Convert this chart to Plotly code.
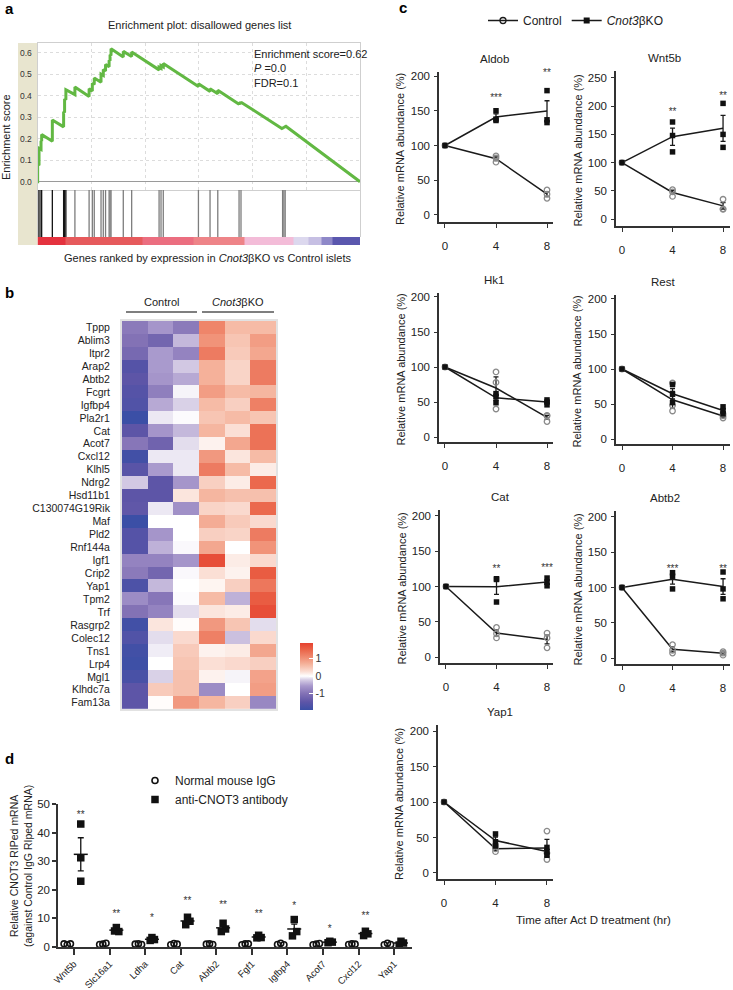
import plotly.graph_objects as go

W, H = 733, 990
FONT = "Liberation Sans, Arial, Helvetica, sans-serif"
INK = "#222222"


def fx(p):
    return p / W


def fy(p):
    return 1 - p / H


# ---------------- Panel a : GSEA enrichment plot ----------------
hit_rank = [0.05, 0.47, 1.09, 1.29, 4.6, 8.1, 8.4, 8.8, 11.6, 16.0, 17.0, 17.6, 19.7, 20.4,
            21.1, 22.2, 22.5, 22.8, 26.6, 29.2, 37.7, 38.3, 39.0, 49.9, 53.5, 55.9, 62.5,
            63.1, 76.0, 76.4, 76.8]
es_before = [0.000, 0.076, 0.150, 0.188, 0.188, 0.255, 0.322, 0.381, 0.405, 0.396, 0.422,
             0.452, 0.462, 0.494, 0.515, 0.535, 0.562, 0.587, 0.580, 0.582, 0.520, 0.527,
             0.534, 0.443, 0.420, 0.409, 0.360, 0.362, 0.245, 0.249, 0.252]
es_after = [0.080, 0.155, 0.190, 0.220, 0.287, 0.325, 0.385, 0.428, 0.440, 0.432, 0.458,
            0.482, 0.500, 0.522, 0.545, 0.565, 0.590, 0.618, 0.606, 0.603, 0.532, 0.540,
            0.550, 0.455, 0.432, 0.425, 0.368, 0.370, 0.253, 0.256, 0.260]
es_end_rank = 100.0
es_end_value = 0.0
es_ticks = [0.0, 0.1, 0.2, 0.3, 0.4, 0.5, 0.6]
strip_edges = [0, 8.7, 32.5, 48.3, 64.1, 79.3, 83.9, 88.2, 91.6, 100]
strip_level = [0, 1, 2, 3, 4, 5, 6, 7, 8]
strip_colors = ["#e4323e", "#e65a5c", "#eb6e80", "#ee8488", "#f3bcd8",
                "#dcd8ee", "#c6bfe3", "#8e88c8", "#5a57ae"]

# ---------------- Panel b : heatmap ----------------
genes_b = ["Tppp", "Ablim3", "Itpr2", "Arap2", "Abtb2", "Fcgrt", "Igfbp4", "Pla2r1", "Cat",
           "Acot7", "Cxcl12", "Klhl5", "Ndrg2", "Hsd11b1", "C130074G19Rik", "Maf", "Pld2",
           "Rnf144a", "Igf1", "Crip2", "Yap1", "Tpm2", "Trf", "Rasgrp2", "Colec12", "Tns1",
           "Lrp4", "Mgl1", "Klhdc7a", "Fam13a"]
expr = [
    [-0.90, -0.60, -0.90, 1.15, 0.60, 0.60],
    [-1.00, -1.20, -0.35, 1.00, 0.50, 0.90],
    [-1.15, -0.55, -0.80, 1.25, 0.45, 0.80],
    [-1.60, -0.55, -0.25, 0.70, 0.35, 1.25],
    [-1.50, -0.60, -0.45, 0.70, 0.35, 1.25],
    [-1.60, -0.85, -0.05, 0.90, 0.60, 0.65],
    [-1.65, -0.45, -0.20, 0.60, 0.40, 1.20],
    [-1.95, -0.10, -0.02, 0.50, 0.60, 0.50],
    [-1.50, -0.60, -0.35, 0.65, 0.25, 1.35],
    [-0.95, -1.25, -0.15, 0.10, 0.80, 1.35],
    [-1.85, -0.10, -0.10, 0.95, 0.20, 0.60],
    [-1.55, -0.55, -0.10, 1.25, 0.60, 0.15],
    [-0.25, -1.50, -0.60, 0.40, 0.15, 1.45],
    [-1.50, -1.50, 0.20, 0.65, 0.55, 0.55],
    [-1.45, -0.10, -0.65, 0.35, 0.30, 1.45],
    [-1.95, 0.00, 0.00, 0.75, 0.45, 0.30],
    [-1.60, -0.60, 0.00, 0.40, 0.35, 1.25],
    [-1.60, -0.40, -0.03, 0.80, 0.00, 1.00],
    [-0.80, -0.80, -0.60, 1.75, 0.15, 0.30],
    [-0.90, -1.20, -0.03, 0.25, 0.10, 1.60],
    [-1.70, -0.35, 0.00, 0.08, 0.40, 1.30],
    [-0.70, -0.95, -0.02, 0.60, -0.40, 1.60],
    [-1.00, -0.80, -0.15, 0.20, 0.15, 1.75],
    [-1.85, 0.20, 0.02, 0.95, 0.50, -0.15],
    [-1.65, -0.15, 0.30, 1.20, -0.30, 0.30],
    [-1.85, -0.08, 0.45, 0.10, 0.15, 0.80],
    [-1.90, 0.00, 0.50, 0.25, 0.30, 0.40],
    [-1.75, -0.20, 0.55, 0.10, -0.05, 0.85],
    [-1.50, 0.45, 0.55, -0.70, 0.00, 0.90],
    [-1.50, 0.02, 0.95, 0.65, 0.40, -0.75],
]
cbar_ticks = [-1, 0, 1]
cbar_ticktext = ["-1", "0", "1"]

# ---------------- Panel c : mRNA decay ----------------
c_genes = ["Aldob", "Wnt5b", "Hk1", "Rest", "Cat", "Abtb2", "Yap1"]
time_h = [0, 4, 8]
start_pct = 100
ctrl_4h = [[85, 82, 76], [52, 48, 40], [93, 78, 40], [80, 48, 40], [42, 33, 27], [19, 11, 7], [38, 34, 30]]
ctrl_8h = [[36, 30, 24], [35, 18, 17], [31, 30, 22], [36, 33, 30], [34, 27, 13], [9, 7, 4], [59, 28, 19]]
ko_4h = [[150, 138, 136], [172, 148, 119], [62, 58, 49], [78, 64, 52], [111, 110, 78], [121, 116, 98], [55, 44, 38]]
ko_8h = [[179, 137, 133], [205, 150, 127], [53, 50, 46], [46, 40, 36], [112, 106, 101], [122, 98, 84], [36, 30, 25]]
ctrl_mean = [[100, 81, 30], [100, 47, 23.3], [100, 70, 28], [100, 56, 33], [100, 34, 24.7], [100, 12.3, 6.7], [100, 34, 35.3]]
ctrl_sem = [[0, 2.6, 3.5], [0, 3.5, 5.8], [0, 15.8, 2.8], [0, 12.2, 1.7], [0, 4.4, 6.2], [0, 3.5, 1.5], [0, 2.3, 12.1]]
ko_mean = [[100, 141, 149.7], [100, 146, 160.7], [100, 56, 50], [100, 64.7, 40.7], [100, 99.7, 106.3], [100, 111.7, 101.3], [100, 45.7, 30.3]]
ko_sem = [[0, 4.4, 14.7], [0, 15.3, 23.0], [0, 3.8, 2.0], [0, 7.5, 2.9], [0, 10.8, 3.2], [0, 7.0, 11.1], [0, 5.0, 3.2]]
star_4h = ["***", "**", "", "", "**", "***", ""]
star_8h = ["**", "**", "", "", "***", "**", ""]
star_y_4h = [167, 188, None, None, 124, 126, None]
star_y_8h = [203, 218, None, None, 126, 126, None]
c_yticks = [[0, 50, 100, 150, 200], [0, 50, 100, 150, 200, 250], [0, 50, 100, 150, 200],
            [0, 50, 100, 150, 200], [0, 50, 100, 150, 200], [0, 50, 100, 150, 200],
            [0, 50, 100, 150, 200]]

# ---------------- Panel d : RIP ----------------
cats_d = ["Wnt5b", "Slc16a1", "Ldha", "Cat", "Abtb2", "Fgf1", "Igfbp4", "Acot7", "Cxcl12", "Yap1"]
igg = [[1.1, 0.8, 1.1], [0.9, 1.0, 1.3], [1.0, 1.1, 0.9], [0.8, 1.2, 1.0], [1.0, 1.1, 0.9],
       [0.8, 1.1, 1.1], [0.9, 1.3, 0.8], [0.8, 1.0, 1.2], [0.9, 1.1, 1.0], [0.8, 1.3, 0.9]]
anti = [[43.0, 31.2, 23.0], [6.8, 5.4, 5.6], [3.3, 2.6, 2.3], [10.4, 9.0, 7.8], [8.3, 6.3, 5.4],
        [4.1, 3.3, 3.2], [9.6, 5.4, 3.9], [2.0, 1.7, 1.5], [5.5, 4.6, 4.0], [2.0, 1.4, 0.7]]
anti_mean = [32.4, 5.9, 2.7, 9.1, 6.7, 3.5, 6.3, 1.7, 4.7, 1.4]
anti_sem = [5.8, 0.4, 0.3, 0.8, 0.9, 0.3, 1.7, 0.15, 0.4, 0.4]
stars_d = ["**", "**", "*", "**", "**", "**", "*", "*", "**", ""]
star_y_d = [46.0, 11.5, 10.0, 16.0, 14.5, 11.5, 14.0, 6.0, 10.5, None]

fig = go.Figure()

# ---- a: ES curve ----
es_x, es_y = [0.0], [0.0]
for r, b, a in zip(hit_rank, es_before, es_after):
    es_x += [r, r]
    es_y += [b, a]
es_x.append(es_end_rank)
es_y.append(es_end_value)
fig.add_trace(go.Scatter(x=es_x, y=es_y, mode="lines", line=dict(color="#62b843", width=3),
                         xaxis="x", yaxis="y", showlegend=False, hoverinfo="skip"))

for dark in (True, False):
    bx, by = [], []
    for r in hit_rank:
        if (r < 10) == dark:
            bx += [r, r, None]
            by += [0, 1, None]
    fig.add_trace(go.Scatter(x=bx, y=by, mode="lines",
                             line=dict(color="#151515" if dark else "#7d7d7d", width=1.3),
                             xaxis="x2", yaxis="y2", showlegend=False, hoverinfo="skip"))

strip_scale = [[i / (len(strip_colors) - 1), c] for i, c in enumerate(strip_colors)]
fig.add_trace(go.Heatmap(z=[strip_level], x=strip_edges, y=[0, 1], colorscale=strip_scale,
                         zmin=0, zmax=len(strip_colors) - 1, showscale=False,
                         xaxis="x3", yaxis="y3", hoverinfo="skip"))

# ---- b: heatmap ----
hm_scale = [[0.0, "#3b4fa6"], [0.12, "#5e55a7"], [0.25, "#8473b6"], [0.36, "#a898cc"],
            [0.45, "#d6cde5"], [0.506, "#ffffff"], [0.58, "#fadbd0"], [0.68, "#f5b59e"],
            [0.78, "#f08e74"], [0.9, "#ea6448"], [1.0, "#e6412f"]]
fig.add_trace(go.Heatmap(
    z=expr, x=list(range(6)), y=genes_b, colorscale=hm_scale, zmin=-1.94, zmax=1.89,
    xaxis="x4", yaxis="y4", hoverinfo="skip",
    colorbar=dict(x=fx(300), xanchor="left", y=fy(676.5), yanchor="middle",
                  len=67, lenmode="pixels", thickness=13, xpad=0, ypad=0,
                  tickvals=cbar_ticks, ticktext=cbar_ticktext, ticks="inside", ticklen=4,
                  tickcolor="white", outlinewidth=0, tickfont=dict(size=10.5, color="#333"))))

# ---- c: decay panels ----
c_geom = [  # x_left, x_right, y_top, y_bottom (px), y range, title x
    (439, 553, 72, 222, [-10.1, 205.8], 494),
    (616, 730, 71, 226, [-12.4, 262.4], 664),
    (439, 553, 293, 442, [-7.1, 205.7], 494),
    (616, 730, 295, 444, [-7.1, 205.7], 663),
    (440, 553, 510, 663, [-8.5, 208.5], 500),
    (616, 730, 511, 664, [-8.5, 208.5], 665),
    (438, 553, 725, 879, [-8.5, 208.5], 500),
]
layout_axes = {}
annotations = []
for i, g in enumerate(c_genes):
    k = 5 + i
    xa, ya = f"x{k}", f"y{k}"
    xl, xr, yt, yb, yr, tx = c_geom[i]
    if xl < 500:
        xrange = [-0.47, 8.47]
    else:
        xrange = [-0.475, 8.55]
    for mean, sem in ((ctrl_mean[i], ctrl_sem[i]), (ko_mean[i], ko_sem[i])):
        fig.add_trace(go.Scatter(
            x=time_h, y=mean, mode="lines", line=dict(color="#1a1a1a", width=1.5),
            error_y=dict(type="data", array=sem, visible=True, color="#1a1a1a", thickness=1.3, width=2.5),
            xaxis=xa, yaxis=ya, showlegend=False, hoverinfo="skip", cliponaxis=False))
    fig.add_trace(go.Scatter(
        x=[time_h[0]] + [time_h[1]] * 3 + [time_h[2]] * 3,
        y=[start_pct] + ctrl_4h[i] + ctrl_8h[i], mode="markers",
        marker=dict(symbol="circle-open", size=5.5, color="#8a8a8a", line=dict(width=1.3, color="#8a8a8a")),
        xaxis=xa, yaxis=ya, showlegend=False, hoverinfo="skip", cliponaxis=False))
    fig.add_trace(go.Scatter(
        x=[time_h[0]] + [time_h[1]] * 3 + [time_h[2]] * 3,
        y=[start_pct] + ko_4h[i] + ko_8h[i], mode="markers",
        marker=dict(symbol="square", size=5.5, color="#111111"),
        xaxis=xa, yaxis=ya, showlegend=False, hoverinfo="skip", cliponaxis=False))
    sx, sy, st = [], [], []
    for t, s, yv in ((time_h[1], star_4h[i], star_y_4h[i]), (time_h[2], star_8h[i], star_y_8h[i])):
        if s:
            sx.append(t)
            sy.append(yv)
            st.append(s)
    if sx:
        fig.add_trace(go.Scatter(x=sx, y=sy, text=st, mode="text", textposition="middle center",
                                 textfont=dict(size=10, color="#333333"), xaxis=xa, yaxis=ya,
                                 showlegend=False, hoverinfo="skip", cliponaxis=False))
    layout_axes[f"xaxis{k}"] = dict(
        domain=[fx(xl), fx(xr)], range=xrange, anchor=ya, tickvals=time_h,
        ticks="outside", ticklen=4, tickwidth=1.3, tickcolor="#333", showline=True,
        linecolor="#333", linewidth=1.5, showgrid=False, zeroline=False,
        tickfont=dict(size=11.5, color="#222"), ticklabelstandoff=8)
    layout_axes[f"yaxis{k}"] = dict(
        domain=[fy(yb), fy(yt)], range=yr, anchor=xa, tickvals=c_yticks[i],
        ticks="outside", ticklen=3, tickwidth=1.3, tickcolor="#333", showline=True,
        linecolor="#333", linewidth=1.5, showgrid=False, zeroline=False,
        tickfont=dict(size=11.5, color="#222"), ticklabelstandoff=2)
    annotations.append(dict(text=g, x=fx(tx), y=fy(yt - 5), xref="paper", yref="paper",
                            xanchor="center", yanchor="bottom", showarrow=False,
                            font=dict(size=11.5, color="#222")))
    annotations.append(dict(text="Relative mRNA abundance (%)", textangle=-90,
                            x=fx(xl - 39), y=fy((yt + yb) / 2 + 2), xref="paper", yref="paper",
                            xanchor="center", yanchor="middle", showarrow=False,
                            font=dict(size=11, color="#222")))

# legend entries for c
fig.add_trace(go.Scatter(x=[None], y=[None], mode="lines+markers", name="Control",
                         line=dict(color="#1a1a1a", width=1.5),
                         marker=dict(symbol="circle-open", size=6, color="#1a1a1a", line=dict(width=1.3)),
                         xaxis="x5", yaxis="y5", legend="legend"))
fig.add_trace(go.Scatter(x=[None], y=[None], mode="lines+markers", name="<i>Cnot3</i>βKO",
                         line=dict(color="#1a1a1a", width=1.5),
                         marker=dict(symbol="square", size=6, color="#111"),
                         xaxis="x5", yaxis="y5", legend="legend"))

# ---- d: RIP scatter ----
igg_off, anti_off = -0.19, 0.19
rep_jit = [-0.09, 0.0, 0.09]
anti_jit = [0.0, 0.07, -0.05]
gx, gy, ax_, ay_ = [], [], [], []
for j in range(len(cats_d)):
    for r in range(3):
        gx.append(j + igg_off + rep_jit[r])
        gy.append(igg[j][r])
        ax_.append(j + anti_off + (anti_jit[r] if j > 0 else 0))
        ay_.append(anti[j][r])
fig.add_trace(go.Scatter(x=gx, y=gy, mode="markers", xaxis="x12", yaxis="y12",
                         marker=dict(symbol="circle-open", size=6, color="#111", line=dict(width=1.6)),
                         showlegend=False, hoverinfo="skip", cliponaxis=False))
fig.add_trace(go.Scatter(x=ax_, y=ay_, mode="markers", xaxis="x12", yaxis="y12",
                         marker=dict(symbol="square", size=7.5, color="#111"),
                         showlegend=False, hoverinfo="skip", cliponaxis=False))
fig.add_trace(go.Scatter(
    x=[j + anti_off for j in range(len(cats_d))], y=anti_mean, mode="markers",
    marker=dict(symbol="line-ew-open", size=10, color="#111", line=dict(width=1.5, color="#111")),
    error_y=dict(type="data", array=anti_sem, visible=True, color="#111", thickness=1.3, width=3),
    xaxis="x12", yaxis="y12", showlegend=False, hoverinfo="skip", cliponaxis=False))
sdx = [j + anti_off for j in range(len(cats_d)) if stars_d[j]]
sdy = [star_y_d[j] for j in range(len(cats_d)) if stars_d[j]]
sdt = [s for s in stars_d if s]
fig.add_trace(go.Scatter(x=sdx, y=sdy, text=sdt, mode="text", textfont=dict(size=10, color="#333333"),
                         xaxis="x12", yaxis="y12", showlegend=False, hoverinfo="skip", cliponaxis=False))
fig.add_trace(go.Scatter(x=[None], y=[None], mode="markers", name="Normal mouse IgG",
                         marker=dict(symbol="circle-open", size=6, color="#111", line=dict(width=1.6)),
                         xaxis="x12", yaxis="y12", legend="legend2"))
fig.add_trace(go.Scatter(x=[None], y=[None], mode="markers", name="anti-CNOT3 antibody",
                         marker=dict(symbol="square", size=7.5, color="#111"),
                         xaxis="x12", yaxis="y12", legend="legend2"))

# ---- layout ----
frame = "#cfcfcf"
layout_axes["xaxis"] = dict(domain=[fx(37.5), fx(360)], range=[0, 100], showticklabels=False, ticks="",
                            showgrid=True, gridcolor="#dcdcdc", griddash="dot", tick0=0, dtick=100 / 6,
                            zeroline=False, showline=True, mirror=True, linecolor=frame, anchor="y")
layout_axes["yaxis"] = dict(domain=[fy(190), fy(43)], range=[-0.0386, 0.645], tickvals=es_ticks,
                            ticktext=[f"{v:.1f}" for v in es_ticks], ticks="",
                            tickfont=dict(size=8.5, color="#333"), showgrid=True, gridcolor="#dcdcdc",
                            griddash="dot", zeroline=True, zerolinecolor="#9a9a9a", zerolinewidth=1.2,
                            showline=True, mirror=True, linecolor=frame, anchor="x", ticklabelstandoff=3)
layout_axes["xaxis2"] = dict(domain=[fx(37.5), fx(360)], range=[0, 100], visible=False, anchor="y2")
layout_axes["yaxis2"] = dict(domain=[fy(237), fy(190)], range=[0, 1], showticklabels=False, ticks="",
                             showgrid=False, zeroline=False, showline=True, mirror=True,
                             linecolor=frame, anchor="x2")
layout_axes["xaxis3"] = dict(domain=[fx(37.5), fx(360)], range=[0, 100], visible=False, anchor="y3")
layout_axes["yaxis3"] = dict(domain=[fy(245), fy(237)], range=[0, 1], visible=False, anchor="x3")
layout_axes["xaxis4"] = dict(domain=[fx(122), fx(276)], range=[-0.5, 5.5], showticklabels=False, ticks="",
                             showgrid=False, zeroline=False, showline=True, mirror=True,
                             linecolor="#e2e2e2", linewidth=2, anchor="y4")
layout_axes["yaxis4"] = dict(domain=[fy(709.2), fy(320.8)], autorange="reversed", ticks="",
                             tickmode="array", tickvals=genes_b, ticktext=genes_b,
                             tickfont=dict(size=10.5, color="#222"), showgrid=False, zeroline=False,
                             showline=True, mirror=True, linecolor="#e2e2e2", linewidth=2,
                             anchor="x4", ticklabelstandoff=8)
layout_axes["xaxis12"] = dict(domain=[fx(58), fx(412)], range=[-0.45, 9.5], tickvals=list(range(len(cats_d))),
                              ticktext=cats_d, tickangle=-45, ticks="outside", ticklen=6, tickwidth=1.5,
                              tickcolor="#333", showline=True, linecolor="#333", linewidth=1.5,
                              showgrid=False, zeroline=False, anchor="y12",
                              tickfont=dict(size=9.5, color="#222"))
layout_axes["yaxis12"] = dict(domain=[fy(947), fy(804)], range=[0, 50], dtick=10, ticks="outside",
                              ticklen=4, tickwidth=1.5, tickcolor="#333", showline=True, linecolor="#333",
                              linewidth=1.5, showgrid=False, zeroline=False, anchor="x12",
                              tickfont=dict(size=11.5, color="#222"))


def ann(text, xp, yp, size=11, xanchor="center", yanchor="middle", angle=0, bold=False, color="#222"):
    return dict(text=f"<b>{text}</b>" if bold else text, x=fx(xp), y=fy(yp), xref="paper", yref="paper",
                xanchor=xanchor, yanchor=yanchor, textangle=angle, showarrow=False,
                font=dict(size=size, color=color))


annotations += [
    ann("a", 3, 9, 15, "left", bold=True, color="#000"),
    ann("b", 3, 292, 15, "left", bold=True, color="#000"),
    ann("c", 397, 7, 15, "left", bold=True, color="#000"),
    ann("d", 3, 758, 15, "left", bold=True, color="#000"),
    ann("Enrichment plot: disallowed genes list", 199, 25, 11),
    ann("Enrichment score", 6, 137, 11, angle=-90),
    dict(text="Enrichment score=0.62<br><i>P</i> =0.0<br>FDR=0.1", x=fx(252), y=fy(46), xref="paper",
         yref="paper", xanchor="left", yanchor="top", align="left", showarrow=False,
         font=dict(size=11, color="#222")),
    ann("Genes ranked by expression in <i>Cnot3</i>βKO vs Control islets", 207, 258, 11),
    ann("Control", 161, 302, 11),
    ann("<i>Cnot3</i>βKO", 238, 302, 11),
    ann("Time after Act D treatment (hr)", 593, 920, 11.5),
    ann("Relative CNOT3 RIPed mRNA<br>(against Control IgG RIped mRNA)", 21, 866, 10.5, angle=-90),
]

shapes = [
    dict(type="rect", xref="paper", yref="paper", x0=fx(18), x1=fx(37.5), y0=fy(245), y1=fy(43),
         fillcolor="#e8e5cf", line=dict(width=0), layer="below"),
    dict(type="line", xref="paper", yref="paper", x0=fx(126), x1=fx(197), y0=fy(312), y1=fy(312),
         line=dict(color="#555", width=1.5)),
    dict(type="line", xref="paper", yref="paper", x0=fx(202), x1=fx(274), y0=fy(312), y1=fy(312),
         line=dict(color="#555", width=1.5)),
]

fig.update_layout(
    width=W, height=H, margin=dict(l=0, r=0, t=0, b=0, autoexpand=False),
    paper_bgcolor="white", plot_bgcolor="rgba(0,0,0,0)",
    font=dict(family=FONT, color=INK, size=11),
    showlegend=True,
    legend=dict(orientation="h", x=fx(483), y=fy(6), xanchor="left", yanchor="top",
                font=dict(size=12, color="#222"), bgcolor="rgba(0,0,0,0)"),
    legend2=dict(x=fx(135), y=fy(766), xanchor="left", yanchor="top",
                 font=dict(size=12, color="#222"), bgcolor="rgba(0,0,0,0)"),
    annotations=annotations, shapes=shapes,
    **layout_axes,
)

fig.write_html("out.html", config={"displayModeBar": False},
               post_script="document.body.style.margin='0px';document.body.style.overflow='hidden';")
